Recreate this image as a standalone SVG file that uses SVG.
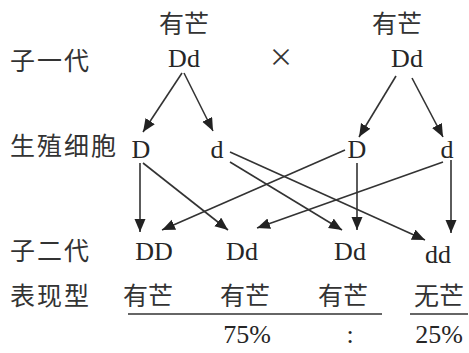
<svg xmlns="http://www.w3.org/2000/svg" width="469" height="353" viewBox="0 0 469 353">
  <style>
    .cn { font-family: "Noto Sans CJK SC", "Noto Sans", sans-serif; font-size: 25px; fill: #333; }
    .lbl { letter-spacing: 2px; }
    .gt { font-family: "Liberation Serif", serif; font-size: 26px; fill: #262626; text-anchor: middle; }
    .mid { text-anchor: middle; }
    .edge { stroke: #333; stroke-width: 1.6; fill: none; marker-end: url(#arrow); }
    .rule { stroke: #333; stroke-width: 1.6; }
  </style>
  <defs>
    <marker id="arrow" markerUnits="userSpaceOnUse" markerWidth="14" markerHeight="12" refX="13" refY="5.5" orient="auto">
      <path d="M0,0 L13,5.5 L0,11 Z" fill="#222"/>
    </marker>
  </defs>

  <!-- row labels -->
  <g id="row-labels">
    <text class="cn lbl" x="10" y="70">子一代</text>
    <text class="cn lbl" x="10" y="155">生殖细胞</text>
    <text class="cn lbl" x="10" y="260">子二代</text>
    <text class="cn lbl" x="10" y="305">表现型</text>
  </g>

  <!-- parents -->
  <g id="parent-left">
    <text class="cn mid" x="184" y="33">有芒</text>
    <text class="gt" x="184" y="67">Dd</text>
  </g>
  <g id="cross">
    <text class="cn mid" x="281" y="66">×</text>
  </g>
  <g id="parent-right">
    <text class="cn mid" x="397" y="33">有芒</text>
    <text class="gt" x="407" y="67">Dd</text>
  </g>

  <!-- gametes -->
  <g id="gamete-D1"><text class="gt" x="141" y="158">D</text></g>
  <g id="gamete-d1"><text class="gt" x="217" y="158">d</text></g>
  <g id="gamete-D2"><text class="gt" x="357" y="158">D</text></g>
  <g id="gamete-d2"><text class="gt" x="447" y="158">d</text></g>

  <!-- offspring with phenotypes -->
  <g id="child-DD">
    <text class="gt" x="154" y="260">DD</text>
    <text class="cn mid" x="148" y="305">有芒</text>
  </g>
  <g id="child-Dd1">
    <text class="gt" x="242" y="260">Dd</text>
    <text class="cn mid" x="245" y="305">有芒</text>
  </g>
  <g id="child-Dd2">
    <text class="gt" x="350" y="260">Dd</text>
    <text class="cn mid" x="343" y="305">有芒</text>
  </g>
  <g id="child-dd">
    <text class="gt" x="438" y="263">dd</text>
    <text class="cn mid" x="439" y="305">无芒</text>
  </g>

  <!-- ratio -->
  <g id="ratio">
    <line class="rule" x1="128" y1="314" x2="382" y2="314"/>
    <line class="rule" x1="410" y1="314" x2="468" y2="314"/>
    <text class="gt" x="247" y="343">75%</text>
    <text class="gt" x="350" y="343">:</text>
    <text class="gt" x="439" y="343">25%</text>
  </g>

  <!-- arrows -->
  <g id="connectors">
    <line class="edge" x1="182" y1="73" x2="143" y2="132"/>
    <line class="edge" x1="184" y1="73" x2="213" y2="131"/>
    <line class="edge" x1="396" y1="76" x2="359" y2="137"/>
    <line class="edge" x1="412" y1="78" x2="443" y2="137"/>
    <line class="edge" x1="140" y1="163" x2="140" y2="232"/>
    <line class="edge" x1="143" y1="163" x2="228" y2="230"/>
    <line class="edge" x1="230" y1="152" x2="425" y2="240"/>
    <line class="edge" x1="230" y1="162" x2="342" y2="230"/>
    <line class="edge" x1="345" y1="150" x2="162" y2="230"/>
    <line class="edge" x1="357" y1="163" x2="357" y2="230"/>
    <line class="edge" x1="443" y1="162" x2="257" y2="228"/>
    <line class="edge" x1="451" y1="160" x2="451" y2="233"/>
  </g>
</svg>
